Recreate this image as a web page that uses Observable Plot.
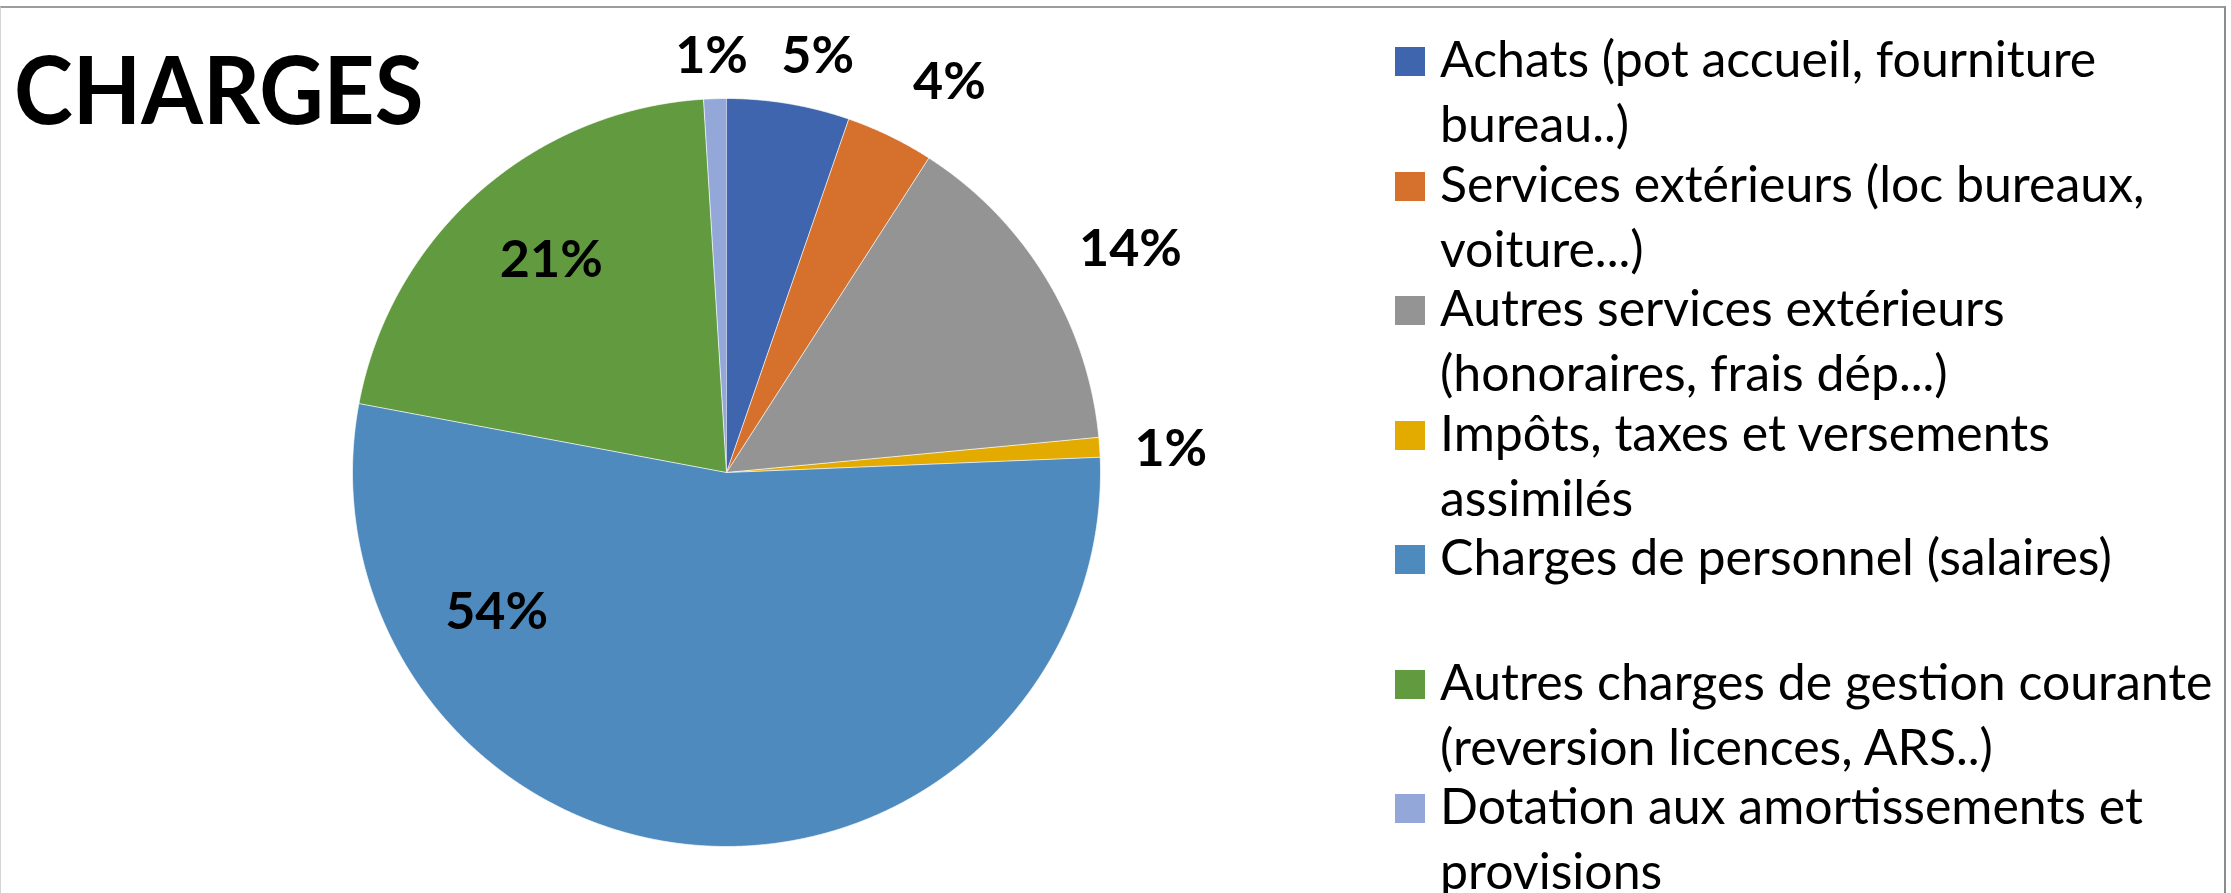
<!DOCTYPE html>
<html>
<head>
<meta charset="utf-8">
<script src="https://cdn.jsdelivr.net/npm/d3@7"></script>
<script src="https://cdn.jsdelivr.net/npm/@observablehq/plot@0.6"></script>
<style>
  html, body { margin: 0; padding: 0; background: #fff; }
  #chart { position: relative; width: 2231px; height: 893px; overflow: hidden; font-family: Lato, "Open Sans", sans-serif; color: #000; }
  #frame { position: absolute; left: 0; top: 6px; width: 2226px; height: 920px; box-sizing: border-box;
           border-top: 2px solid #9c9c9c; border-left: 1px solid #d4d4d4; border-right: 2px solid #8c8c8c; }
  #chart svg { position: absolute; left: 0; top: 0; }
  #title { position: absolute; left: 14px; top: 41px; font: 700 94px/94px Lato, sans-serif; white-space: nowrap;
           transform: scaleX(0.945); transform-origin: 0 0; }
  #legend { position: absolute; left: 1395px; top: 26px; }
  .item { position: relative; padding-left: 45px; font: 400 50px/65px Lato, sans-serif; white-space: pre; margin-bottom: -5.5px; }
  .swatch { position: absolute; left: 0; top: 21px; width: 30px; height: 29px; }
</style>
</head>
<body>
<div id="chart">
  <div id="frame"></div>
  <div id="title">CHARGES</div>
  <div id="legend"></div>
</div>
<script>
// Budget breakdown of expenses (share of total, %)
const categories = [
  "Achats (pot accueil, fourniture\nbureau..)",
  "Services extérieurs (loc bureaux,\nvoiture...)",
  "Autres services extérieurs\n(honoraires, frais dép...)",
  "Impôts, taxes et versements\nassimilés",
  "Charges de personnel (salaires)\n\u00a0",
  "Autres charges de gestion courante\n(reversion licences, ARS..)",
  "Dotation aux amortissements et\nprovisions"
];
const shares = [5.3, 3.8, 14.4, 0.85, 53.6, 21.07, 0.98];
const colors = ["#3e65ae", "#d5712d", "#949494", "#e3ab00", "#4f8abe", "#629b3f", "#93a7d8"];

// Label placement: position along each slice's arc (0..1) and distance from centre (radius units)
const labelAlong  = [0.645, 0.77, 0.543, 0.686, 0.785, 0.528, 0.42];
const labelRadius = [1.144, 1.206, 1.236, 1.19, 0.716, 0.739, 1.118];

// Layout of the pie inside the drawing
const W = 1380, H = 893, CX = 726, CY = 472, R = 374;

const total = d3.sum(shares);
const arcs = d3.pie().sort(null)(shares);

// Each slice as a closed polygon: centre, then points along its arc
const slicePts = arcs.flatMap((a, i) => {
  const cat = categories[i];
  const n = Math.max(2, Math.ceil((a.endAngle - a.startAngle) / (Math.PI / 720)));
  const pts = [{cat, x: 0, y: 0}];
  for (let k = 0; k <= n; k++) {
    const t = a.startAngle + (a.endAngle - a.startAngle) * k / n;
    pts.push({cat, x: Math.sin(t), y: Math.cos(t)});
  }
  return pts;
});

const labels = arcs.map((a, i) => {
  const t = a.startAngle + (a.endAngle - a.startAngle) * labelAlong[i];
  return {
    x: labelRadius[i] * Math.sin(t),
    y: labelRadius[i] * Math.cos(t),
    text: `${Math.round(shares[i] / total * 100)}%`
  };
});

const plot = Plot.plot({
  width: W,
  height: H,
  margin: 0,
  x: {domain: [-CX / R, (W - CX) / R], axis: null},
  y: {domain: [-(H - CY) / R, CY / R], axis: null},
  color: {domain: categories, range: colors},
  style: {fontFamily: "Lato, sans-serif", background: "transparent", overflow: "visible"},
  marks: [
    Plot.line(slicePts, {x: "x", y: "y", z: "cat", fill: "cat", stroke: "#ffffff", strokeWidth: 1, strokeOpacity: 0.7}),
    Plot.text(labels, {x: "x", y: "y", text: "text", fontSize: 52, fontWeight: "bold", fill: "#000", dy: 2})
  ]
});
document.getElementById("chart").insertBefore(plot, document.getElementById("title"));

// Legend built from the same categories and colour scale
const color = plot.scale("color");
const legend = document.getElementById("legend");
categories.forEach(c => {
  const item = document.createElement("div");
  item.className = "item";
  const sw = document.createElement("span");
  sw.className = "swatch";
  sw.style.background = color.apply(c);
  item.appendChild(sw);
  item.appendChild(document.createTextNode(c));
  legend.appendChild(item);
});
</script>
</body>
</html>
